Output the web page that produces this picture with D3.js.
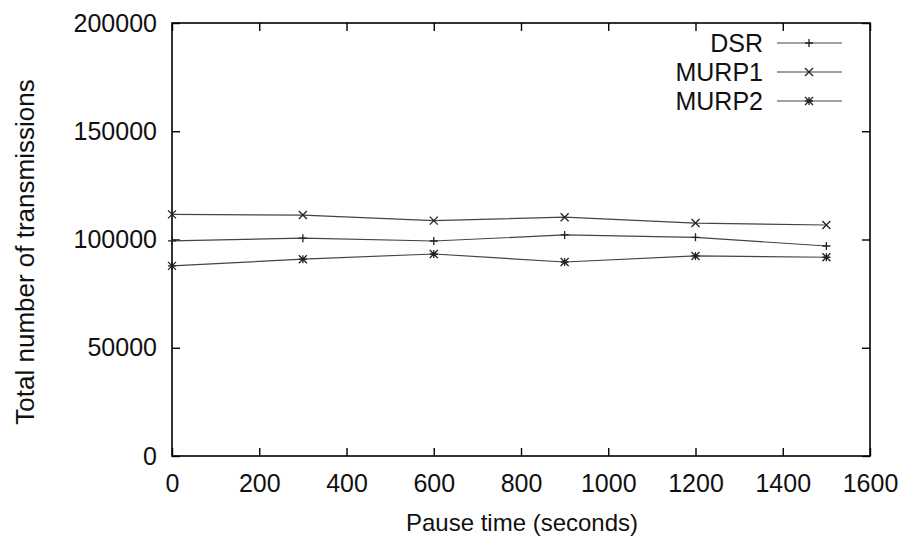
<!DOCTYPE html>
<html>
<head>
<meta charset="utf-8">
<script src="https://cdn.jsdelivr.net/npm/d3@7"></script>
<style>
  body { margin: 0; background: #fff; }
  svg { display: block; font-family: "Liberation Sans", Arial, sans-serif; }
</style>
</head>
<body>
<svg id="chart" width="911" height="546"></svg>
<script>
// data
const pauseTimes = [0, 300, 600, 900, 1200, 1500];
const dsr   = [99400, 100600, 99300, 102100, 101000, 97000];
const murp1 = [111600, 111300, 108700, 110300, 107600, 106700];
const murp2 = [87800, 90900, 93300, 89600, 92400, 91800];
const seriesNames = ['DSR', 'MURP1', 'MURP2'];
const xTicks = [0, 200, 400, 600, 800, 1000, 1200, 1400, 1600];
const yTicks = [0, 50000, 100000, 150000, 200000];

const plotLeft = 172, plotRight = 870, plotTop = 23, plotBottom = 456;
const fontSize = 25;

const svg = d3.select('#chart');

const x = d3.scaleLinear().domain([0, 1600]).range([plotLeft, plotRight]);
const y = d3.scaleLinear().domain([0, 200000]).range([plotBottom, plotTop]);

// marker shapes, gnuplot style
function plus(s) { return `M${-s},0H${s}M0,${-s}V${s}`; }
function times(s) { return `M${-s},${-s}L${s},${s}M${-s},${s}L${s},${-s}`; }
function star(s) { return plus(s) + times(s); }
const markers = [plus, times, star];

// axes, ticks pointing inward on all four sides
function styleAxis(g) {
  g.select('.domain').remove();
  g.selectAll('line').attr('stroke', '#000').attr('stroke-width', 1.4);
  g.selectAll('text').attr('fill', '#111')
    .attr('font-family', '"Liberation Sans", Arial, sans-serif')
    .style('font-size', fontSize + 'px');
}

svg.append('g')
  .attr('transform', `translate(0,${plotBottom})`)
  .call(d3.axisBottom(x).tickValues(xTicks).tickSize(-8).tickPadding(18).tickFormat(d3.format('d')))
  .call(styleAxis);

svg.append('g')
  .attr('transform', `translate(0,${plotTop})`)
  .call(d3.axisTop(x).tickValues(xTicks).tickSize(-8).tickFormat(''))
  .call(styleAxis);

svg.append('g')
  .attr('transform', `translate(${plotLeft},0)`)
  .call(d3.axisLeft(y).tickValues(yTicks).tickSize(-8).tickPadding(15).tickFormat(d3.format('d')))
  .call(styleAxis);

svg.append('g')
  .attr('transform', `translate(${plotRight},0)`)
  .call(d3.axisRight(y).tickValues(yTicks).tickSize(-8).tickFormat(''))
  .call(styleAxis);

// frame
svg.append('rect')
  .attr('x', plotLeft).attr('y', plotTop)
  .attr('width', plotRight - plotLeft).attr('height', plotBottom - plotTop)
  .attr('fill', 'none').attr('stroke', '#000').attr('stroke-width', 1.6);

// series
const series = [dsr, murp1, murp2].map((vals, i) => ({
  name: seriesNames[i],
  marker: markers[i],
  points: vals.map((v, j) => ({ t: pauseTimes[j], v: v }))
}));

const line = d3.line().x(d => x(d.t)).y(d => y(d.v));

series.forEach(s => {
  svg.append('path')
    .datum(s.points)
    .attr('d', line)
    .attr('fill', 'none')
    .attr('stroke', '#444')
    .attr('stroke-width', 1.2);

  svg.selectAll(null)
    .data(s.points)
    .enter()
    .append('path')
    .attr('transform', d => `translate(${x(d.t)},${y(d.v)})`)
    .attr('d', s.marker(4))
    .attr('fill', 'none')
    .attr('stroke', '#222')
    .attr('stroke-width', 1.3);
});

// legend
const legend = svg.append('g');
series.forEach((s, i) => {
  const ly = 43 + i * 29;
  legend.append('text')
    .attr('x', 763).attr('y', ly)
    .attr('dy', '0.35em')
    .attr('text-anchor', 'end')
    .style('font-size', fontSize + 'px')
    .attr('fill', '#111')
    .text(s.name);
  legend.append('line')
    .attr('x1', 777).attr('x2', 842)
    .attr('y1', ly).attr('y2', ly)
    .attr('stroke', '#444').attr('stroke-width', 1.2);
  legend.append('path')
    .attr('transform', `translate(809,${ly})`)
    .attr('d', s.marker(4))
    .attr('fill', 'none').attr('stroke', '#222').attr('stroke-width', 1.3);
});

// axis titles
svg.append('text')
  .attr('x', 522).attr('y', 523)
  .attr('dy', '0.35em')
  .attr('text-anchor', 'middle')
  .style('font-size', '24px')
  .attr('fill', '#111')
  .text('Pause time (seconds)');

svg.append('text')
  .attr('transform', 'translate(25,252) rotate(-90)')
  .attr('dy', '0.35em')
  .attr('text-anchor', 'middle')
  .style('font-size', '26px')
  .attr('fill', '#111')
  .text('Total number of transmissions');
</script>
</body>
</html>
